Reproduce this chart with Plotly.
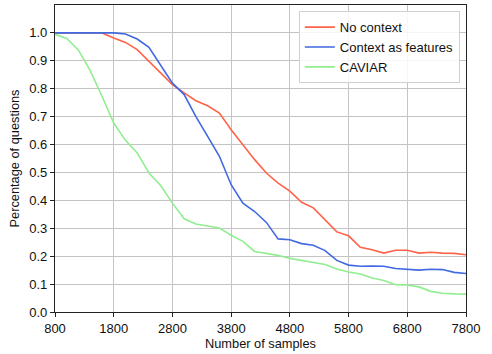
import plotly.graph_objects as go

samples = list(range(800, 7801, 200))

no_context = [1.0, 1.0, 1.0, 1.0, 1.0, 0.982, 0.966, 0.94, 0.898, 0.859,
              0.815, 0.785, 0.757, 0.739, 0.713, 0.653, 0.60, 0.546, 0.498, 0.462,
              0.433, 0.393, 0.373, 0.331, 0.287, 0.273, 0.232, 0.223, 0.211, 0.221,
              0.221, 0.211, 0.214, 0.211, 0.21, 0.205]

context_features = [1.0, 1.0, 1.0, 1.0, 1.0, 1.0, 0.996, 0.978, 0.948, 0.886,
                    0.82, 0.779, 0.70, 0.629, 0.558, 0.456, 0.39, 0.36, 0.321, 0.262,
                    0.259, 0.245, 0.239, 0.22, 0.185, 0.168, 0.164, 0.165, 0.164, 0.156,
                    0.153, 0.15, 0.153, 0.152, 0.142, 0.138]

caviar = [0.995, 0.98, 0.938, 0.865, 0.773, 0.677, 0.615, 0.57, 0.498, 0.453,
          0.39, 0.334, 0.315, 0.307, 0.301, 0.275, 0.253, 0.217, 0.209, 0.203,
          0.192, 0.185, 0.176, 0.17, 0.154, 0.143, 0.136, 0.122, 0.113, 0.098,
          0.097, 0.09, 0.074, 0.067, 0.065, 0.064]

x_ticks = list(range(800, 7801, 1000))
y_ticks = [round(0.1 * i, 1) for i in range(11)]

series = [
    ("No context", no_context, "#ff6347"),
    ("Context as features", context_features, "#4169e1"),
    ("CAVIAR", caviar, "#90ee90"),
]

FONT = "Liberation Sans"

fig = go.Figure()
for name, values, color in series:
    fig.add_trace(go.Scatter(x=samples, y=values, mode="lines", name=name,
                             line=dict(color=color, width=1.6)))

axis_common = dict(
    showline=True, linecolor="#222222", linewidth=1.2, mirror=True,
    ticks="outside", ticklen=4, tickwidth=1, tickcolor="#222222",
    showgrid=True, gridcolor="#c4c4c4", gridwidth=1.2,
    zeroline=False,
    tickfont=dict(family=FONT, size=13, color="#111111"),
)

fig.update_xaxes(range=[800, 7800], tickvals=x_ticks,
                 ticktext=[str(v) for v in x_ticks],
                 title=dict(text="Number of samples", standoff=4,
                            font=dict(family=FONT, size=12.8, color="#111111")),
                 **axis_common)
fig.update_yaxes(range=[0, 1.1], tickvals=y_ticks,
                 ticktext=[f"{v:.1f}" for v in y_ticks],
                 title=dict(text="Percentage of questions", standoff=6,
                            font=dict(family=FONT, size=12.8, color="#111111")),
                 **axis_common)

fig.update_layout(
    width=492, height=354,
    margin=dict(l=55, r=26, t=5, b=42),
    paper_bgcolor="white", plot_bgcolor="white",
    showlegend=True,
    legend=dict(x=0.985, y=0.98, xanchor="right", yanchor="top",
                bgcolor="rgba(255,255,255,0.85)", bordercolor="#d0d0d0",
                borderwidth=1, itemwidth=30, tracegroupgap=0,
                font=dict(family=FONT, size=13, color="#111111")),
)

fig.write_html("out.html")
